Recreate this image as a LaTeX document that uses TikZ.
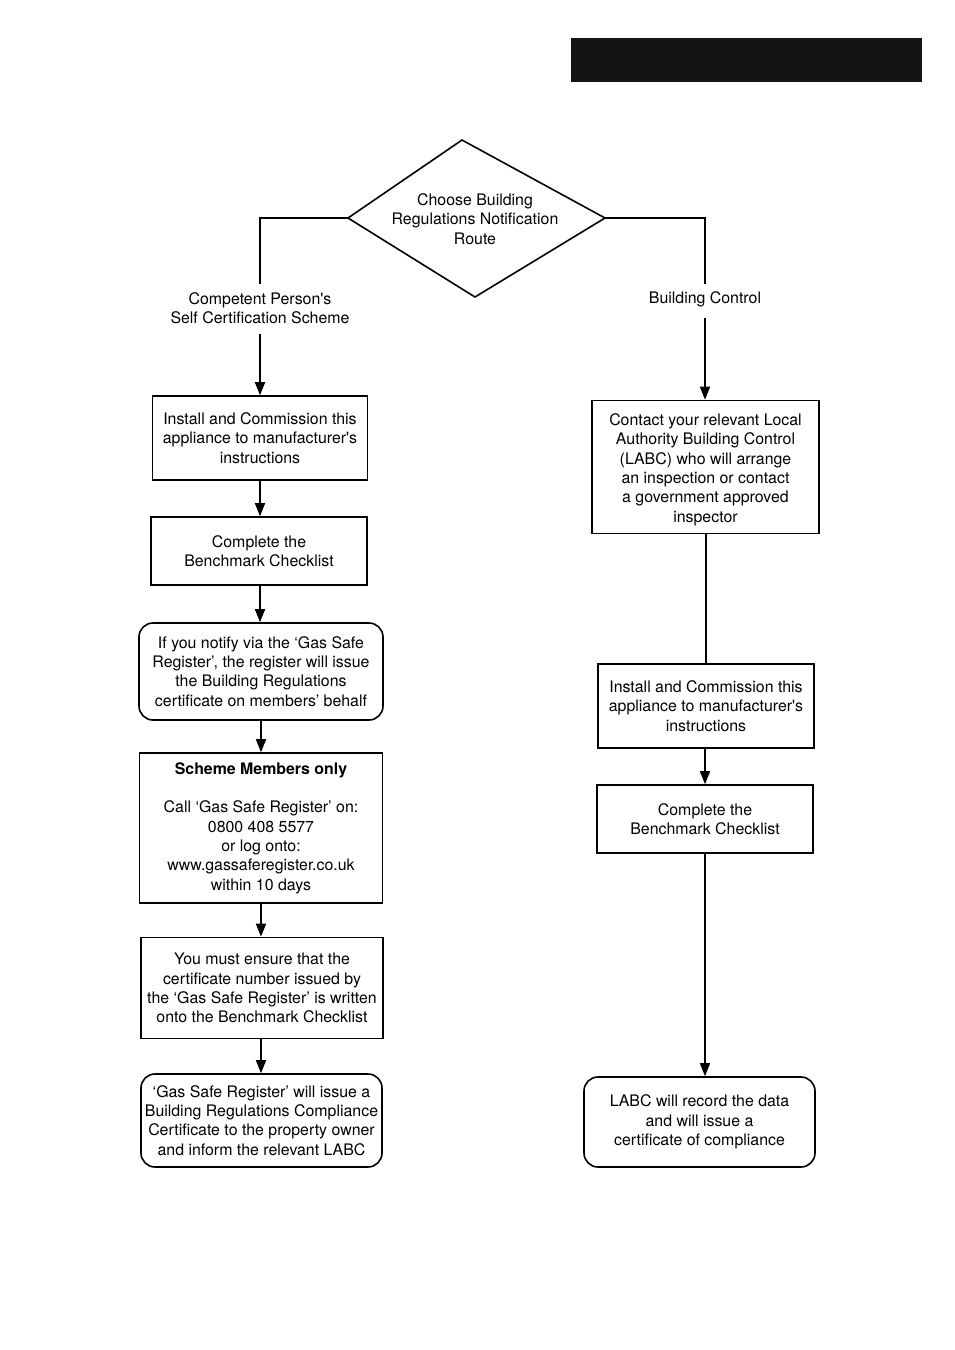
\documentclass[tikz,border=0pt]{standalone}
\usepackage{fontspec}
\setmainfont{TeX Gyre Heros}
\usetikzlibrary{arrows.meta}
\newcommand\sq{\textquotesingle}
\begin{document}
\begin{tikzpicture}[x=1pt,y=-1pt,
  every node/.style={font=\fontsize{15.9}{19.3}\selectfont, align=center, inner sep=0pt},
  box/.style={draw, line width=1.6pt, fill=white},
  rbox/.style={box, rounded corners=14pt},
  conn/.style={line width=1.6pt},
  arr/.style={conn, -{Triangle[length=13pt,width=10pt]}}]
\useasboundingbox (0,0) rectangle (954,1350);
% top bar
\fill[black!92] (571,38) rectangle (922,82);
% diamond
\coordinate (dT) at (462,140);
\coordinate (dL) at (348,218);
\coordinate (dR) at (605,218);
\coordinate (dB) at (475,297);
\draw[conn, line join=miter] (dT) -- (dR) -- (dB) -- (dL) -- cycle;
\node (dtext) at (475,219) {Choose Building\\Regulations Notification\\Route};
% route labels
\node (CP) at (260,308) {Competent Person\sq s\\Self Certification Scheme};
\node (BC) at (705,299) {Building Control};
\coordinate (cpTop) at (260,284);
\coordinate (cpBot) at (260,334);
\coordinate (bcTop) at (705,284);
\coordinate (bcBot) at (705,318);
% left boxes
\node[box, minimum width=215pt, minimum height=84pt] (L1) at (260,438) {Install and Commission this\\appliance to manufacturer\sq s\\instructions};
\node[box, minimum width=216pt, minimum height=68pt] (L2) at (259,551) {Complete the\\Benchmark Checklist};
\node[rbox, minimum width=244pt, minimum height=97pt] (L3) at (261,671.5) {If you notify via the `Gas Safe\\Register', the register will issue\\the Building Regulations\\certificate on members' behalf};
\node[box, minimum width=243pt, minimum height=150pt] (L4) at (261,828) {\textbf{Scheme Members only}\\[19.3pt]Call `Gas Safe Register' on:\\0800 408 5577\\or log onto:\\www.gassaferegister.co.uk\\within 10 days};
\node[box, minimum width=242pt, minimum height=101pt] (L5) at (262,988) {You must ensure that the\\certificate number issued by\\the `Gas Safe Register' is written\\onto the Benchmark Checklist};
\node[rbox, minimum width=241pt, minimum height=93pt] (L6) at (261.5,1120.5) {`Gas Safe Register' will issue a\\Building Regulations Compliance\\Certificate to the property owner\\and inform the relevant LABC};
% right boxes
\node[box, minimum width=227pt, minimum height=133pt] (R1) at (705.5,467) {\raisebox{-3pt}[\height][\depth]{\begin{tabular}{@{}c@{}}Contact your relevant Local\\Authority Building Control\\(LABC) who will arrange\\an inspection or contact\\a government approved\\inspector\end{tabular}}};
\node[box, minimum width=216pt, minimum height=84pt] (R2) at (706,706) {Install and Commission this\\appliance to manufacturer\sq s\\instructions};
\node[box, minimum width=216pt, minimum height=68pt] (R3) at (705,819) {Complete the\\Benchmark Checklist};
\node[rbox, minimum width=231pt, minimum height=90pt] (R4) at (699.5,1122) {LABC will record the data\\and will issue a\\certificate of compliance};
% connectors
\draw[conn] (dL) -| (cpTop);
\draw[conn] (dR) -| (bcTop);
\draw[arr] (cpBot) -- (cpBot |- L1.north);
\draw[arr] (bcBot) -- (bcBot |- R1.north);
\draw[arr] (L1.south) -- (L1.south |- L2.north);
\draw[arr] (L2.south -| L1.south) -- (L1.south |- L3.north);
\draw[arr] (L3.south) -- (L3.south |- L4.north);
\draw[arr] (L4.south) -- (L4.south |- L5.north);
\draw[arr] (L4.south |- L5.south) -- (L4.south |- L6.north);
\draw[conn] (R2.north |- R1.south) -- (R2.north);
\draw[arr] (R3.north |- R2.south) -- (R3.north);
\draw[arr] (R3.south) -- (R3.south |- R4.north);
\end{tikzpicture}
\end{document}
